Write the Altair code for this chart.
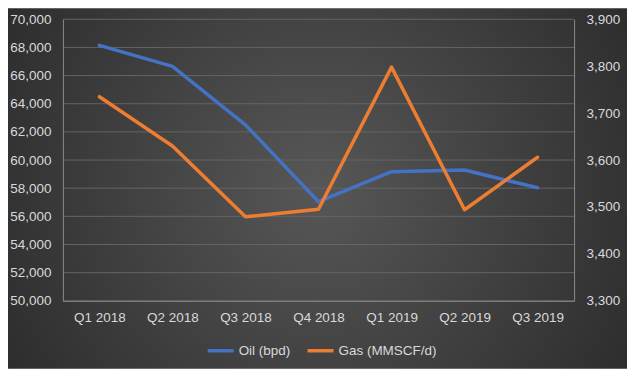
import altair as alt
import pandas as pd

quarters = ["Q1 2018", "Q2 2018", "Q3 2018", "Q4 2018", "Q1 2019", "Q2 2019", "Q3 2019"]
oil = [68150, 66650, 62500, 57040, 59170, 59290, 58030]
gas = [3735, 3630, 3479, 3495, 3798, 3494, 3606]
series_names = ["Oil (bpd)", "Gas (MMSCF/d)"]
series_colors = ["#4472C4", "#ED7D31"]
oil_ticks = [50000, 52000, 54000, 56000, 58000, 60000, 62000, 64000, 66000, 68000, 70000]
gas_ticks = [3300, 3400, 3500, 3600, 3700, 3800, 3900]

oil_df = pd.DataFrame({"quarter": quarters, "value": oil, "series": series_names[0]})
gas_df = pd.DataFrame({"quarter": quarters, "value": gas, "series": series_names[1]})
grid_df = pd.DataFrame({"value": oil_ticks})

FONT = "Liberation Sans"
TXT = "#d9d9d9"

x_enc = alt.X("quarter:N", sort=quarters, title=None,
              scale=alt.Scale(padding=0.5),
              axis=alt.Axis(labelAngle=0, labelPadding=10, ticks=False, grid=False,
                            domainColor="#8a8a8a", domainWidth=1, zindex=1,
                            labelColor=TXT, labelFont=FONT, labelFontSize=13.5))
color_enc = alt.Color("series:N", title=None,
                      scale=alt.Scale(domain=series_names, range=series_colors),
                      legend=alt.Legend(orient="none", direction="horizontal",
                                        legendX=143, legendY=317,
                                        symbolType="stroke", symbolSize=676,
                                        symbolStrokeWidth=3.5, labelOffset=3,
                                        columnPadding=10, labelColor=TXT,
                                        labelFont=FONT, labelFontSize=13.5))

bg = alt.Chart(alt.Data(values=[{"a": 1}])).mark_rect(
    fill={"gradient": "radial", "x1": 0.5, "y1": 0.5, "r1": 0,
          "x2": 0.5, "y2": 0.5, "r2": 0.72,
          "stops": [{"offset": 0, "color": "#575757"},
                    {"offset": 1, "color": "#232323"}]}
).encode(x=alt.value(-55), x2=alt.value(565), y=alt.value(-11), y2=alt.value(350))

grid = alt.Chart(grid_df).mark_rule(color="#646464", strokeWidth=1).encode(
    y=alt.Y("value:Q", scale=alt.Scale(domain=[50000, 70000], nice=False, zero=False), axis=None)
)

oil_line = alt.Chart(oil_df).mark_line(strokeWidth=3.5, strokeJoin="round", strokeCap="round").encode(
    x=x_enc,
    y=alt.Y("value:Q", scale=alt.Scale(domain=[50000, 70000], nice=False, zero=False), title=None,
            axis=alt.Axis(orient="left", values=oil_ticks, format=",.0f", grid=False,
                          ticks=False, labelPadding=12, domainColor="#8a8a8a", zindex=1,
                          labelColor=TXT, labelFont=FONT, labelFontSize=13.5)),
    color=color_enc,
)

gas_line = alt.Chart(gas_df).mark_line(strokeWidth=3.5, strokeJoin="round", strokeCap="round").encode(
    x=x_enc,
    y=alt.Y("value:Q", scale=alt.Scale(domain=[3300, 3900], nice=False, zero=False), title=None,
            axis=alt.Axis(orient="right", values=gas_ticks, format=",.0f", grid=False,
                          ticks=False, labelPadding=12, domainColor="#8a8a8a", zindex=1,
                          labelColor=TXT, labelFont=FONT, labelFontSize=13.5)),
    color=color_enc,
)

chart = alt.layer(bg, grid, oil_line, gas_line).resolve_scale(y="independent", color="shared").properties(
    width=512, height=282,
    padding={"left": 55, "top": 11, "right": 53, "bottom": 68},
    autosize=alt.AutoSizeParams(type="none"),
).configure_view(stroke=None)

chart.save("out.html", embed_options={"renderer": "svg", "actions": False})
